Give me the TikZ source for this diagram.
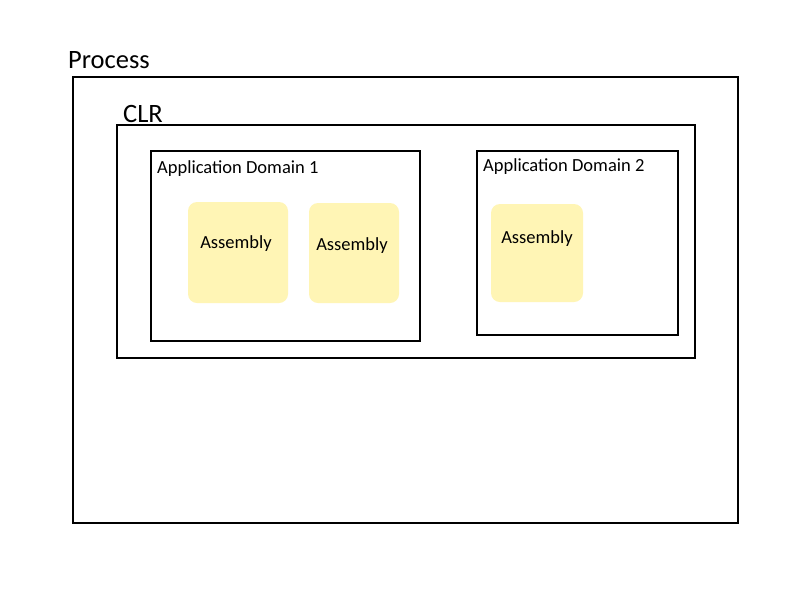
\documentclass[tikz,border=0pt]{standalone}
\usepackage{fontspec}
\setmainfont{Carlito}
\definecolor{asmfill}{HTML}{FFF5B5}
\begin{document}
\begin{tikzpicture}[x=1pt,y=-1pt,
  frame/.style={draw=black,line width=2pt},
  asm/.style={fill=asmfill,rounded corners=9pt},
  biglabel/.style={anchor=base west,inner sep=0pt,font=\fontsize{26.5}{30}\selectfont},
  adlabel/.style={anchor=base west,inner sep=0pt,font=\fontsize{18.5}{22}\selectfont},
  asmlabel/.style={anchor=base,inner sep=0pt,font=\fontsize{18.5}{22}\selectfont}]
\useasboundingbox (0,0) rectangle (800,600);
\fill[white] (0,0) rectangle (800,600);
% Process
\draw[frame] (73,77) rectangle (738,523);
\node[biglabel] (proc) at (68,68) {Process};
% CLR
\draw[frame] (117,125) rectangle (695,358);
\node[biglabel] (clr) at (123,122) {CLR};
% AD1
\draw[frame] (151,151) rectangle (420,341);
\node[adlabel] (ad1) at (157,173) {Application Domain 1};
% AD2
\draw[frame] (477,151) rectangle (678,335);
\node[adlabel] (ad2) at (483,171) {Application Domain 2};
% Assemblies
\fill[asm] (188,202) rectangle (288,303);
\node[asmlabel] (a1) at (236,248) {Assembly};
\fill[asm] (309,203) rectangle (399,303);
\node[asmlabel] (a2) at (352,250) {Assembly};
\fill[asm] (491,204) rectangle (583,302);
\node[asmlabel] (a3) at (537,243) {Assembly};
\end{tikzpicture}
\end{document}
